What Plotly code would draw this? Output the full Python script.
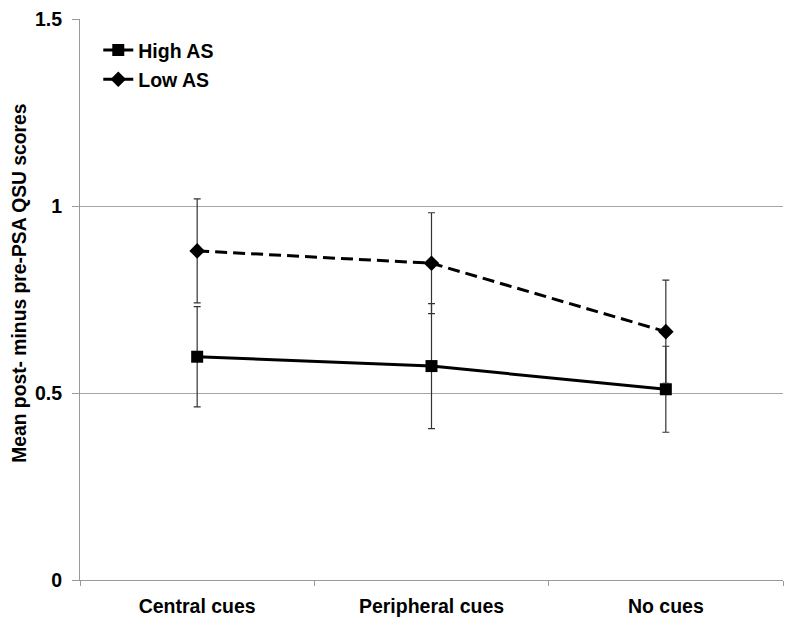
import plotly.graph_objects as go

categories = ["Central cues", "Peripheral cues", "No cues"]
high_as = [0.597, 0.572, 0.510]
high_err = [0.134, 0.167, 0.115]
low_as = [0.880, 0.847, 0.664]
low_err = [0.139, 0.135, 0.138]
y_ticks = [0, 0.5, 1, 1.5]
y_ticktext = ["0", "0.5", "1", "1.5"]
y_title = "Mean post- minus pre-PSA QSU scores"

FONT = "Liberation Sans, Arial, sans-serif"

fig = go.Figure()
fig.add_trace(go.Scatter(
    x=categories, y=high_as, name="High AS", mode="lines+markers",
    legendgroup="high",
    line=dict(color="black", width=3),
    marker=dict(symbol="square", size=12, color="black"),
    error_y=dict(type="data", array=high_err, visible=True, color="#333", thickness=1.2, width=3.5),
))
fig.add_trace(go.Scatter(
    x=categories, y=low_as, name="Low AS", mode="lines+markers",
    legendgroup="low",
    line=dict(color="black", width=3, dash="12px,6px"),
    marker=dict(symbol="diamond", size=12, color="black"),
    error_y=dict(type="data", array=low_err, visible=True, color="#333", thickness=1.2, width=3.5),
))

fig.update_layout(
    width=800, height=619,
    margin=dict(l=80, r=17, t=19, b=39),
    paper_bgcolor="white", plot_bgcolor="white",
    font=dict(family=FONT, color="black"),
    showlegend=True,
    legend=dict(x=0.026, y=0.979, xanchor="left", yanchor="top",
                font=dict(size=19.5, family=FONT, weight="bold"),
                bgcolor="rgba(0,0,0,0)", traceorder="grouped", tracegroupgap=1),
    xaxis=dict(
        type="category", categoryorder="array", categoryarray=categories,
        range=[-0.5, 2.5], showgrid=False, showline=True, linecolor="#999", linewidth=1,
        ticks="outside", tickson="boundaries", ticklen=5, tickcolor="#999",
        tickfont=dict(size=19.5, family=FONT, weight="bold"),
        ticklabelstandoff=9, automargin=False,
        zeroline=False,
    ),
    yaxis=dict(
        range=[0, 1.5], tickvals=y_ticks, ticktext=y_ticktext,
        showgrid=True, gridcolor="#a6a6a6", gridwidth=1,
        showline=True, linecolor="#999", linewidth=1,
        ticks="outside", ticklen=7, tickcolor="#999",
        tickfont=dict(size=19.5, family=FONT, weight="bold"),
        ticklabelstandoff=6, automargin=False,
        zeroline=False,
    ),
    annotations=[dict(
        text=y_title, textangle=-90, xref="paper", yref="paper",
        x=-0.086, y=0.529, xanchor="center", yanchor="middle", showarrow=False,
        font=dict(size=19.3, family=FONT, weight="bold", color="black"),
    )],
)

fig.write_html("out.html", config={"displayModeBar": False},
               post_script="document.body.style.margin='0';")
